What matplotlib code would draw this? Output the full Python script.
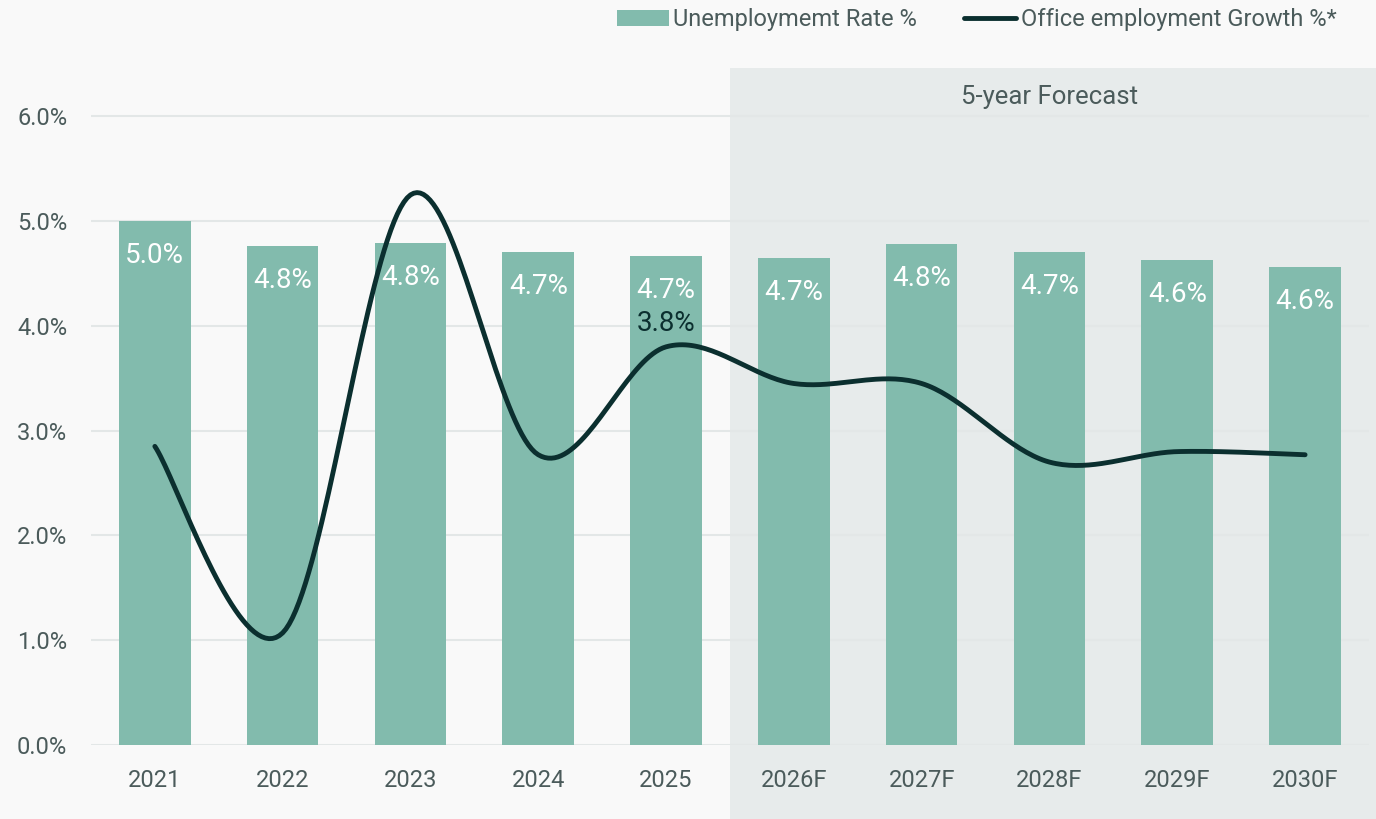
import numpy as np
import matplotlib.pyplot as plt
from matplotlib.patches import Rectangle

plt.rcParams['font.family'] = ['Roboto', 'DejaVu Sans']

# 數據
years = ['2021', '2022', '2023', '2024', '2025', '2026F', '2027F', '2028F', '2029F', '2030F']
unemployment = [5.0, 4.76, 4.79, 4.71, 4.67, 4.65, 4.78, 4.71, 4.63, 4.56]
office_growth = [2.85, 1.07, 5.25, 2.77, 3.8, 3.45, 3.45, 2.7, 2.8, 2.77]
forecast_start = 5

BAR = '#82bbad'
LINE = '#0b2f2f'
TEXT = '#4b5b5b'
BG = '#f9f9f9'
SHADE = '#e7ebeb'
GRID = '#e3e7e7'


def smooth_curve(x, y, n=40):
    """平滑曲線 (Bezier, 類似 Excel 平滑線)"""
    x = np.asarray(x, float)
    y = np.asarray(y, float)
    px = np.concatenate([[x[0]], x, [x[-1]]])
    py = np.concatenate([[y[0]], y, [y[-1]]])
    xs, ys = [], []
    t = np.linspace(0, 1, n)
    for i in range(len(x) - 1):
        p0 = np.array([px[i + 1], py[i + 1]])
        p3 = np.array([px[i + 2], py[i + 2]])
        c1 = p0 + (np.array([px[i + 2], py[i + 2]]) - np.array([px[i], py[i]])) / 6
        c2 = p3 - (np.array([px[i + 3], py[i + 3]]) - np.array([px[i + 1], py[i + 1]])) / 6
        b = ((1 - t) ** 3)[:, None] * p0 + (3 * (1 - t) ** 2 * t)[:, None] * c1 \
            + (3 * (1 - t) * t ** 2)[:, None] * c2 + (t ** 3)[:, None] * p3
        xs.extend(b[:, 0])
        ys.extend(b[:, 1])
    return np.array(xs), np.array(ys)


fig = plt.figure(figsize=(13.76, 8.19), dpi=100, facecolor=BG)
ax = fig.add_axes([0.0661, 0.0904, 0.9288, 0.8315])
ax.set_facecolor('none')

x = np.arange(len(years))

# 預測區域背景
ax.add_patch(Rectangle((forecast_start - 0.5, -1), 10, 6.46 + 1, facecolor=SHADE,
                       edgecolor='none', zorder=0, clip_on=False))
ax.text(7.0, 6.18, '5-year Forecast', ha='center', va='center',
        fontsize=18.5, color=TEXT, zorder=3)

# 網格
for v in np.arange(0, 6.01, 1.0):
    ax.axhline(v, color=GRID, lw=1.5, zorder=0.5)

bars = ax.bar(x, unemployment, width=0.56, color=BAR, zorder=1, label='Unemploymemt Rate %')
for xi, v in zip(x, unemployment):
    ax.text(xi, v - 0.33, f'{v:.1f}%', ha='center', va='center', fontsize=20, color='white', zorder=3)

sx, sy = smooth_curve(x, office_growth)
line, = ax.plot(sx, sy, color=LINE, lw=3.5, solid_capstyle='round', zorder=2,
                label='Office employment Growth %*')
ax.text(4, office_growth[4] + 0.22, f'{office_growth[4]:.1f}%', ha='center', va='center',
        fontsize=20, color=LINE, zorder=3)

ax.set_xlim(-0.5, 9.5)
ax.set_ylim(0, 6.5)
ax.set_yticks(np.arange(0, 6.01, 1.0))
ax.set_yticklabels([f'{v:.1f}%' for v in np.arange(0, 6.01, 1.0)])
ax.set_xticks(x)
ax.set_xticklabels(years)
ax.tick_params(axis='both', length=0, labelsize=17, labelcolor=TEXT)
ax.tick_params(axis='x', pad=17)
ax.tick_params(axis='y', pad=17)
for s in ax.spines.values():
    s.set_visible(False)

fig.legend(handles=[bars, line], loc='upper right', bbox_to_anchor=(0.987, 1.016), ncol=2,
           frameon=False, fontsize=17, labelcolor=TEXT, handlelength=2.2, handletextpad=0.2,
           columnspacing=2.0)

fig.savefig('out.png', dpi=100, facecolor=BG)
